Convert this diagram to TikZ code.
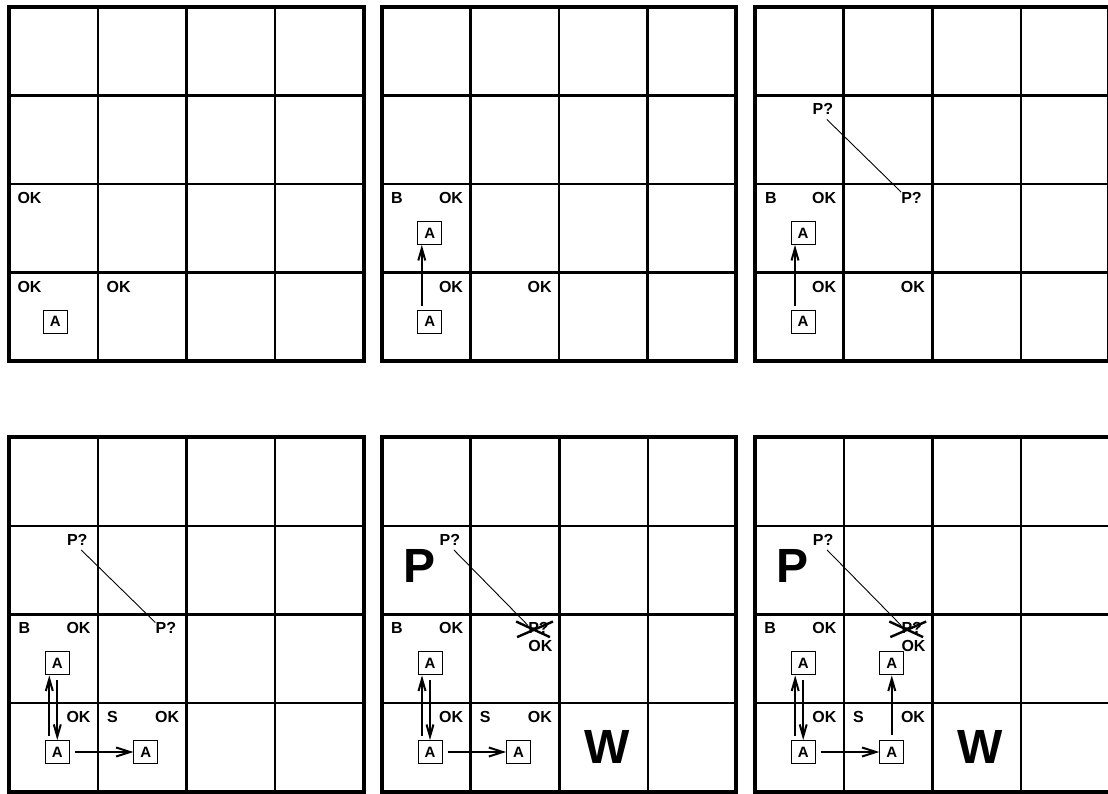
\documentclass[tikz,border=0pt]{standalone}
\usepackage{fontspec}
\setmainfont{Liberation Sans}
\usetikzlibrary{arrows.meta}
\tikzset{
  gridouter/.style={line width=4pt},
  gridinner/.style={line width=2.6pt},
  lbl/.style={inner sep=0pt, anchor=base west, font=\fontsize{16}{16}\selectfont\bfseries},
  agent/.style={draw, line width=1pt, minimum width=24pt, minimum height=23pt, inner sep=0pt, font=\fontsize{15}{15}\selectfont\bfseries},
  big/.style={inner sep=0pt, font=\fontsize{48}{48}\selectfont\bfseries},
  mv/.style={line width=2.2pt, -{Straight Barb[length=12pt,width=7pt,line width=2pt]}},
  mvh/.style={line width=2.2pt, -{Straight Barb[length=14pt,width=9pt,line width=2pt]}},
  link/.style={line width=0.9pt},
  cross/.style={line width=2.4pt},
}
\newcommand\wgrid{%
  \foreach \i in {88.6,177.2,265.8} {
    \draw[gridinner] (\i,0) -- (\i,354.4);
    \draw[gridinner] (0,\i) -- (354.4,\i);
  }
  \draw[gridouter] (0,0) rectangle (354.4,354.4);
}
\begin{document}
\begin{tikzpicture}[x=1pt,y=-1pt]
\useasboundingbox (0,0) rectangle (1108,794);
\clip (0,0) rectangle (1108,794);

% ---------- Grid 1 ----------
\begin{scope}[shift={(9.3,6.7)}]
  \wgrid
  \node[lbl] (g1ok1) at (8,196.7) {OK};
  \node[lbl] (g1ok2) at (8,285.3) {OK};
  \node[lbl] (g1ok3) at (97.1,285.3) {OK};
  \node[agent] (g1a1) at (46,314.8) {A};
\end{scope}

% ---------- Grid 2 ----------
\begin{scope}[shift={(381.8,6.7)}]
  \wgrid
  \node[lbl] (g2b) at (9,196.7) {B};
  \node[lbl] (g2ok1) at (57,196.7) {OK};
  \node[lbl] (g2ok2) at (57,285.3) {OK};
  \node[lbl] (g2ok3) at (145.6,285.3) {OK};
  \node[agent] (g2a1) at (48,314.8) {A};
  \node[agent] (g2a2) at (48,226.2) {A};
  \draw[mv] ([xshift=-8pt,yshift=4pt]g2a1.north) -- ([xshift=-8pt]g2a2.south);
\end{scope}

% ---------- Grid 3 ----------
\begin{scope}[shift={(755,6.7)}]
  \wgrid
  \node[lbl] (g3b) at (10,196.7) {B};
  \node[lbl] (g3ok1) at (57,196.7) {OK};
  \node[lbl] (g3ok2) at (57,285.3) {OK};
  \node[lbl] (g3ok3) at (145.6,285.3) {OK};
  \node[lbl] (g3p1) at (57.5,108.1) {P?};
  \node[lbl] (g3p2) at (146.1,196.7) {P?};
  \draw[link] ([xshift=4pt,yshift=-4.5pt]g3p1.south) -- (g3p2.north west);
  \node[agent] (g3a1) at (48,314.8) {A};
  \node[agent] (g3a2) at (48,226.2) {A};
  \draw[mv] ([xshift=-8pt,yshift=4pt]g3a1.north) -- ([xshift=-8pt]g3a2.south);
\end{scope}

% ---------- Grid 4 ----------
\begin{scope}[shift={(9.3,437.2)}]
  \wgrid
  \node[lbl] (g4b) at (9,196.7) {B};
  \node[lbl] (g4ok1) at (57,196.7) {OK};
  \node[lbl] (g4ok2) at (57,285.3) {OK};
  \node[lbl] (g4s) at (97.6,285.3) {S};
  \node[lbl] (g4ok3) at (145.6,285.3) {OK};
  \node[lbl] (g4p1) at (57.5,108.1) {P?};
  \node[lbl] (g4p2) at (146.1,196.7) {P?};
  \draw[link] ([xshift=4pt,yshift=-4.5pt]g4p1.south) -- (g4p2.north west);
  \node[agent] (g4a1) at (48,314.8) {A};
  \node[agent] (g4a2) at (48,226.2) {A};
  \node[agent] (g4a3) at (136.6,314.8) {A};
  \draw[mv] ([xshift=-8pt,yshift=4pt]g4a1.north) -- ([xshift=-8pt]g4a2.south);
  \draw[mv] ([yshift=-5pt]g4a2.south) -- (g4a1.north);
  \draw[mvh] ([xshift=5pt]g4a1.east) -- (g4a3.west);
\end{scope}

% ---------- Grid 5 ----------
\begin{scope}[shift={(382,437.2)}]
  \wgrid
  \node[lbl] (g5b) at (9,196.7) {B};
  \node[lbl] (g5ok1) at (57,196.7) {OK};
  \node[lbl] (g5ok2) at (57,285.3) {OK};
  \node[lbl] (g5s) at (97.6,285.3) {S};
  \node[lbl] (g5ok3) at (145.6,285.3) {OK};
  \node[lbl] (g5p1) at (57.5,108.1) {P?};
  \node[lbl] (g5p2) at (146.1,196.7) {P?};
  \node[lbl] (g5ok4) at (146.1,214.5) {OK};
  \draw[link] ([xshift=4pt,yshift=-4.5pt]g5p1.south) -- ([yshift=-3pt]g5p2.north west);
  \draw[cross] ([shift={(-12pt,1pt)}]g5p2.north west) -- ([shift={(1pt,-3pt)}]g5p2.south east);
  \draw[cross] ([shift={(-11pt,-3pt)}]g5p2.south west) -- ([shift={(4pt,1pt)}]g5p2.north east);
  \node[big, anchor=base west] (g5P) at (21.4,145.6) {P};
  \node[big, anchor=base] (g5W) at (225.2,325.8) {W};
  \node[agent] (g5a1) at (48,314.8) {A};
  \node[agent] (g5a2) at (48,226.2) {A};
  \node[agent] (g5a3) at (136.6,314.8) {A};
  \draw[mv] ([xshift=-8pt,yshift=4pt]g5a1.north) -- ([xshift=-8pt]g5a2.south);
  \draw[mv] ([yshift=-5pt]g5a2.south) -- (g5a1.north);
  \draw[mvh] ([xshift=5pt]g5a1.east) -- (g5a3.west);
\end{scope}

% ---------- Grid 6 ----------
\begin{scope}[shift={(755.2,437.2)}]
  \wgrid
  \node[lbl] (g6b) at (9,196.7) {B};
  \node[lbl] (g6ok1) at (57,196.7) {OK};
  \node[lbl] (g6ok2) at (57,285.3) {OK};
  \node[lbl] (g6s) at (97.6,285.3) {S};
  \node[lbl] (g6ok3) at (145.6,285.3) {OK};
  \node[lbl] (g6p1) at (57.5,108.1) {P?};
  \node[lbl] (g6p2) at (146.1,196.7) {P?};
  \node[lbl] (g6ok4) at (146.1,214.5) {OK};
  \draw[link] ([xshift=4pt,yshift=-4.5pt]g6p1.south) -- ([yshift=-3pt]g6p2.north west);
  \draw[cross] ([shift={(-12pt,1pt)}]g6p2.north west) -- ([shift={(1pt,-3pt)}]g6p2.south east);
  \draw[cross] ([shift={(-11pt,-3pt)}]g6p2.south west) -- ([shift={(4pt,1pt)}]g6p2.north east);
  \node[big, anchor=base west] (g6P) at (21.4,145.6) {P};
  \node[big, anchor=base] (g6W) at (225.2,325.8) {W};
  \node[agent] (g6a1) at (48,314.8) {A};
  \node[agent] (g6a2) at (48,226.2) {A};
  \node[agent] (g6a3) at (136.6,314.8) {A};
  \node[agent] (g6a4) at (136.6,226.2) {A};
  \draw[mv] ([xshift=-8pt,yshift=4pt]g6a1.north) -- ([xshift=-8pt]g6a2.south);
  \draw[mv] ([yshift=-5pt]g6a2.south) -- (g6a1.north);
  \draw[mvh] ([xshift=5pt]g6a1.east) -- (g6a3.west);
  \draw[mv] ([yshift=5pt]g6a3.north) -- (g6a4.south);
\end{scope}
\end{tikzpicture}
\end{document}
